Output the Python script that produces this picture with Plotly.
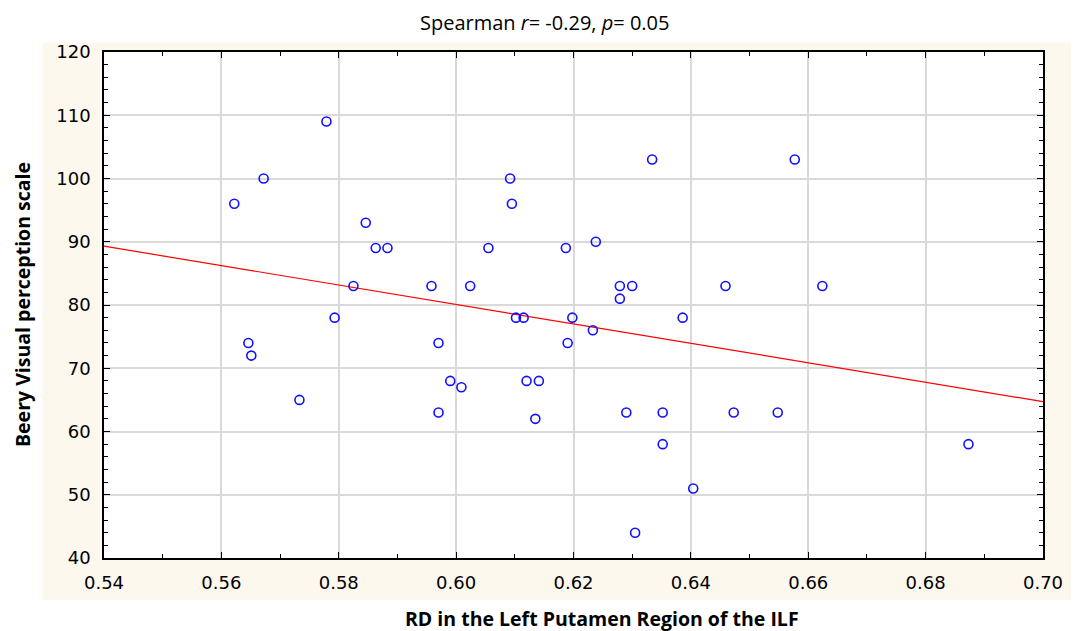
import numpy as np
import plotly.graph_objects as go

# RD values (Left Putamen region of the ILF) and Beery visual perception scores
rd = [0.5622, 0.5646, 0.5651, 0.5672, 0.5733, 0.5779, 0.5793, 0.5825, 0.5846,
      0.5863, 0.5883, 0.5958, 0.5970, 0.5970, 0.5990, 0.6009, 0.6024, 0.6055,
      0.6092, 0.6095, 0.6102, 0.6115, 0.6120, 0.6141, 0.6135, 0.6187, 0.6190,
      0.6198, 0.6233, 0.6238, 0.6279, 0.6279, 0.6300, 0.6290, 0.6305, 0.6334,
      0.6352, 0.6352, 0.6386, 0.6404, 0.6459, 0.6473, 0.6548, 0.6577, 0.6624,
      0.6873]
beery = [96, 74, 72, 100, 65, 109, 78, 83, 93,
         89, 89, 83, 74, 63, 68, 67, 83, 89,
         100, 96, 78, 78, 68, 68, 62, 89, 74,
         78, 76, 90, 83, 81, 83, 63, 44, 103,
         63, 58, 78, 51, 83, 63, 63, 103, 83,
         58]

x_range = [0.54, 0.70]
y_range = [40, 120]

# least-squares fit line across the full x range
slope, intercept = np.polyfit(rd, beery, 1)
fit_x = np.array(x_range)
fit_y = intercept + slope * fit_x

tick_font = dict(family="DejaVu Sans", size=18, color="#000000")
title_font = dict(family="Open Sans", size=19.5, color="#000000")

fig = go.Figure()
fig.add_trace(go.Scatter(
    x=fit_x, y=fit_y, mode="lines",
    line=dict(color="#ff0000", width=1.2),
    hoverinfo="skip", showlegend=False,
))
fig.add_trace(go.Scatter(
    x=rd, y=beery, mode="markers",
    marker=dict(symbol="circle-open", size=9, color="#1010ff",
                line=dict(width=1.6, color="#1010ff")),
    showlegend=False,
))

axis_common = dict(
    showline=True, linecolor="#000000", linewidth=1.5, mirror="ticks",
    ticks="inside", ticklen=6, tickcolor="#000000", tickwidth=1,
    showgrid=True, gridcolor="#d9d9d9", zeroline=False,
    tickfont=tick_font, ticklabelstandoff=8,
)

fig.update_xaxes(
    range=x_range, dtick=0.02, tick0=0.54, tickformat=".2f",
    gridwidth=2,
    minor=dict(dtick=0.01, ticks="inside", ticklen=4, tickcolor="#000000",
               showgrid=False),
    **axis_common,
)
fig.update_yaxes(
    range=y_range, dtick=10, tick0=40,
    gridwidth=1.5,
    minor=dict(dtick=2, ticks="inside", ticklen=4, tickcolor="#000000",
               showgrid=False),
    **axis_common,
)

fig.update_layout(
    width=1075, height=631,
    margin=dict(l=104, r=24, t=52, b=73),
    paper_bgcolor="#ffffff", plot_bgcolor="#ffffff",
    shapes=[
        # cream panel behind the axes and tick labels
        dict(type="rect", xref="paper", yref="paper",
             x0=-0.0655, x1=1.03, y0=-0.083, y1=1.019,
             fillcolor="#fdf8ee", line=dict(width=0), layer="below"),
        # white plotting area on top of the panel
        dict(type="rect", xref="paper", yref="paper",
             x0=0, x1=1, y0=0, y1=1,
             fillcolor="#ffffff", line=dict(width=0), layer="below"),
    ],
    annotations=[
        dict(text="Spearman <i>r</i>= -0.29, <i>p</i>= 0.05",
             xref="paper", yref="paper", x=(548 - 104) / 947, y=1.0,
             yshift=30, showarrow=False, xanchor="center", yanchor="middle",
             font=dict(family="Open Sans", size=20, color="#000000")),
        dict(text="<b>RD in the Left Putamen Region of the ILF</b>",
             xref="paper", yref="paper", x=(606 - 104) / 947, y=0,
             yshift=-60, showarrow=False, xanchor="center", yanchor="middle",
             font=title_font),
        dict(text="<b>Beery Visual perception scale</b>",
             xref="paper", yref="paper", x=0, xshift=-82, y=0.5,
             textangle=-90, showarrow=False, xanchor="center",
             yanchor="middle", font=title_font),
    ],
)

fig.write_html("out.html")
